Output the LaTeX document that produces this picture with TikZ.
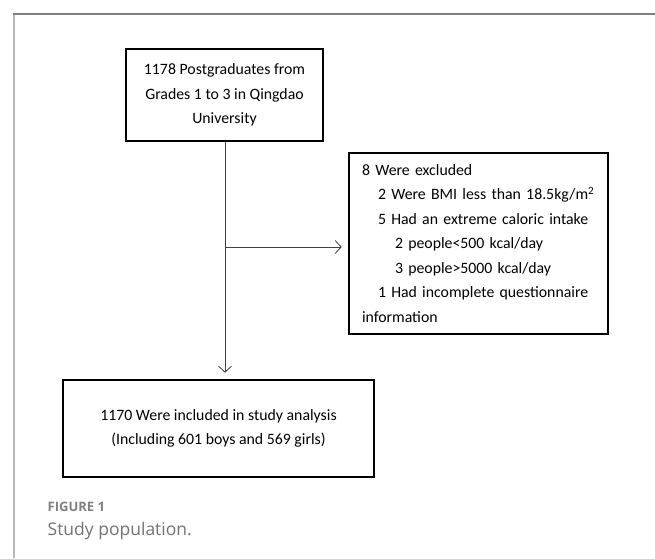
\documentclass[tikz,border=0pt]{standalone}
\usepackage{fontspec}
\setmainfont{Carlito}
\newfontfamily\capfont{Open Sans}
\usetikzlibrary{arrows.meta}
\begin{document}
\begin{tikzpicture}[x=1pt,y=-1pt,
  flowbox/.style={draw=black, line width=2.6pt, inner sep=0pt, align=center,
    font=\fontsize{15.8}{24.5}\selectfont},
  conn/.style={draw=black!75, line width=0.8pt},
  arr/.style={conn, -{Straight Barb[length=6pt,width=13pt,line width=0.8pt]}, shorten >=6pt}
]
\useasboundingbox (0,0) rectangle (655,558);
\fill[white] (0,0) rectangle (655,558);
% frame
\draw[black!28, line width=2pt] (14,13.5) -- (14,558);
\draw[black!50, line width=1.2pt] (13,14) -- (655,14);

\node[flowbox, minimum width=197pt, minimum height=92pt] (top) at (224.5,95)
  {1178 Postgraduates from\\Grades 1 to 3 in Qingdao\\University};

\node[flowbox, minimum width=259pt, minimum height=181pt, align=left,
  text width=233pt] (excl) at (478.5,243.5)
  {8 Were excluded\\
   \hspace*{16pt}2 Were BMI less than 18.5kg/m\textsuperscript{2}\\
   \hspace*{16pt}5 Had an extreme caloric intake\\
   \hspace*{33pt}2 people<500 kcal/day\\
   \hspace*{33pt}3 people>5000 kcal/day\\
   \hspace*{16pt}1 Had incomplete questionnaire\\
   information};

\node[flowbox, minimum width=311pt, minimum height=97pt] (incl) at (218.5,428.5)
  {1170 Were included in study analysis\\(Including 601 boys and 569 girls)};

\coordinate (br) at (225,247);
\draw[arr] (top.south -| br) -- (br |- incl.north);
\draw[arr] (br) -- (br -| excl.west);

\node[anchor=west, inner sep=0pt, text=black!50, font=\capfont\bfseries\fontsize{13}{15}\selectfont] (fig) at (47.5,507) {FIGURE 1};
\node[anchor=west, inner sep=0pt, text=black!55, font=\capfont\fontsize{17.5}{20}\selectfont] (cap) at (47.5,531) {Study population.};
\end{tikzpicture}
\end{document}
